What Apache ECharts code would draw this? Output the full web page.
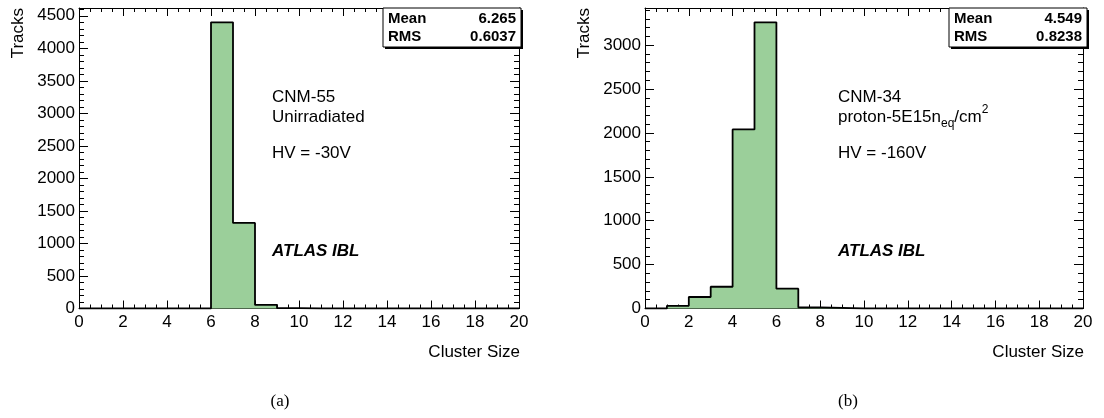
<!DOCTYPE html>
<html>
<head>
<meta charset="utf-8">
<script src="https://cdn.jsdelivr.net/npm/echarts@6/dist/echarts.min.js"></script>
<style>
  html, body { margin: 0; padding: 0; background: #fff; }
  #chart { width: 1104px; height: 418px; }
</style>
</head>
<body>
<div id="chart"></div>
<script>
// Cluster-size histograms: 20 unit-width bins from 0 to 20
const binEdges = [0, 1, 2, 3, 4, 5, 6, 7, 8, 9, 10, 11, 12, 13, 14, 15, 16, 17, 18, 19, 20];
// (a) CNM-55, unirradiated, HV = -30V
const countsA = [0, 0, 0, 0, 0, 0, 4400, 1315, 55, 5, 0, 0, 0, 0, 0, 0, 0, 0, 0, 0];
// (b) CNM-34, proton 5E15 neq/cm2, HV = -160V
const countsB = [0, 30, 131, 248, 2040, 3260, 226, 12, 6, 0, 0, 0, 0, 0, 0, 0, 0, 0, 0, 0];

const statNames = ['Mean', 'RMS'];
const statsA = ['6.265', '0.6037'];
const statsB = ['4.549', '0.8238'];

const xMajorStep = 2, xMinorStep = 0.5;
const yMajorStep = 500, yMinorStep = 100;

const FONT = 'Liberation Sans';
const FILL = '#9bcf9a';

const chart = echarts.init(document.getElementById('chart'));

// Panel frames in pixels
const panels = [
  { left: 79, top: 8, width: 440, height: 300.5, counts: countsA, stats: statsA },
  { left: 645, top: 8, width: 438, height: 300.5, counts: countsB, stats: statsB }
];

const grids = [], xAxes = [], yAxes = [], series = [], graphics = [];

panels.forEach((p, g) => {
  const yMax = Math.max(...p.counts) * 1.05;
  grids.push({ left: p.left, top: p.top, width: p.width, height: p.height, containLabel: false });

  const lineStyle = { color: '#000', width: 1 };
  const base = { gridIndex: g, type: 'value', splitLine: { show: false } };
  const xMain = xAxes.length;
  // bottom axis with labels + major ticks
  xAxes.push(Object.assign({}, base, {
    position: 'bottom', min: 0, max: 20, interval: xMajorStep,
    axisLine: { show: true, onZero: false, lineStyle },
    axisTick: { show: true, inside: true, length: 8, lineStyle },
    axisLabel: { show: true, color: '#000', fontFamily: FONT, fontSize: 17, margin: 5,
      formatter: v => String(v) }
  }));
  // bottom minor ticks
  xAxes.push(Object.assign({}, base, {
    position: 'bottom', min: 0, max: 20, interval: xMinorStep,
    axisLine: { show: false, onZero: false },
    axisTick: { show: true, inside: true, length: 4, lineStyle },
    axisLabel: { show: false }
  }));
  // top mirror, major and minor
  xAxes.push(Object.assign({}, base, {
    position: 'top', min: 0, max: 20, interval: xMajorStep,
    axisLine: { show: true, onZero: false, lineStyle },
    axisTick: { show: true, inside: true, length: 8, lineStyle },
    axisLabel: { show: false }
  }));
  xAxes.push(Object.assign({}, base, {
    position: 'top', min: 0, max: 20, interval: xMinorStep,
    axisLine: { show: false, onZero: false },
    axisTick: { show: true, inside: true, length: 4, lineStyle },
    axisLabel: { show: false }
  }));

  const yMain = yAxes.length;
  yAxes.push(Object.assign({}, base, {
    position: 'left', min: 0, max: yMax, interval: yMajorStep,
    axisLine: { show: true, onZero: false, lineStyle },
    axisTick: { show: true, inside: true, length: 9, lineStyle },
    axisLabel: { show: true, showMaxLabel: false, color: '#000', fontFamily: FONT, fontSize: 17, margin: 4,
      formatter: v => String(v) }
  }));
  yAxes.push(Object.assign({}, base, {
    position: 'left', min: 0, max: yMax, interval: yMinorStep,
    axisLine: { show: false, onZero: false },
    axisTick: { show: true, inside: true, length: 5, lineStyle },
    axisLabel: { show: false }
  }));
  yAxes.push(Object.assign({}, base, {
    position: 'right', min: 0, max: yMax, interval: yMajorStep,
    axisLine: { show: true, onZero: false, lineStyle },
    axisTick: { show: true, inside: true, length: 9, lineStyle },
    axisLabel: { show: false }
  }));
  yAxes.push(Object.assign({}, base, {
    position: 'right', min: 0, max: yMax, interval: yMinorStep,
    axisLine: { show: false, onZero: false },
    axisTick: { show: true, inside: true, length: 5, lineStyle },
    axisLabel: { show: false }
  }));

  // Histogram outline as a step line through the bin edges
  const pts = p.counts.map((c, i) => [binEdges[i], c]);
  pts.push([binEdges[binEdges.length - 1], p.counts[p.counts.length - 1]]);
  series.push({
    type: 'line', xAxisIndex: xMain, yAxisIndex: yMain,
    data: pts, step: 'end', symbol: 'none', silent: true,
    lineStyle: { color: '#000', width: 1.8 },
    areaStyle: { color: FILL, opacity: 1 },
    z: 1
  });

  // Statistics box (top right corner)
  const bx = p.left + 304, by = 8, bw = 138, bh = 39;
  graphics.push({ type: 'rect', shape: { x: bx + 2, y: by + 2, width: bw, height: bh }, style: { fill: '#000' }, z: 10 });
  graphics.push({ type: 'rect', shape: { x: bx, y: by, width: bw, height: bh }, style: { fill: '#fff', stroke: '#000', lineWidth: 1 }, z: 11 });
  statNames.forEach((n, r) => {
    graphics.push({ type: 'text', x: bx + 5, y: by + 11 + r * 18, z: 12,
      style: { text: n, font: 'bold 15px "' + FONT + '"', fill: '#000', align: 'left', verticalAlign: 'middle' } });
    graphics.push({ type: 'text', x: bx + bw - 5, y: by + 11 + r * 18, z: 12,
      style: { text: p.stats[r], font: 'bold 15px "' + FONT + '"', fill: '#000', align: 'right', verticalAlign: 'middle' } });
  });

  // Axis titles
  graphics.push({ type: 'text', x: p.left - 61, y: 8, rotation: Math.PI / 2, z: 12,
    style: { text: 'Tracks', font: '17px "' + FONT + '"', fill: '#000', align: 'right', verticalAlign: 'middle' } });
  graphics.push({ type: 'text', x: p.left + p.width + 1, y: 352, z: 12,
    style: { text: 'Cluster Size', font: '17px "' + FONT + '"', fill: '#000', align: 'right', verticalAlign: 'middle' } });
});

// Panel annotations
const tx = [272, 838];
const annot = (x, y, text, font) => graphics.push({ type: 'text', x, y, z: 12,
  style: { text, font, fill: '#000', align: 'left', verticalAlign: 'middle' } });
annot(tx[0], 97, 'CNM-55', '17px "' + FONT + '"');
annot(tx[0], 117, 'Unirradiated', '17px "' + FONT + '"');
annot(tx[0], 153, 'HV = -30V', '17px "' + FONT + '"');
annot(tx[0], 251, 'ATLAS IBL', 'italic bold 17px "' + FONT + '"');
annot(tx[1], 97, 'CNM-34', '17px "' + FONT + '"');
graphics.push({ type: 'text', x: tx[1], y: 117, z: 12,
  style: {
    text: '{n|proton-5E15n}{sub|eq}{n|/cm}{sup|2}', verticalAlign: 'middle', align: 'left',
    rich: {
      n: { fontFamily: FONT, fontSize: 17, lineHeight: 26, verticalAlign: 'middle', fill: '#000' },
      sub: { fontFamily: FONT, fontSize: 12, lineHeight: 26, verticalAlign: 'bottom', fill: '#000' },
      sup: { fontFamily: FONT, fontSize: 12, lineHeight: 26, verticalAlign: 'top', fill: '#000' }
    }
  } });
annot(tx[1], 153, 'HV = -160V', '17px "' + FONT + '"');
annot(tx[1], 251, 'ATLAS IBL', 'italic bold 17px "' + FONT + '"');

// Sub-figure captions
graphics.push({ type: 'text', x: 280, y: 402, z: 12,
  style: { text: '(a)', font: '17px "Liberation Serif"', fill: '#000', align: 'center', verticalAlign: 'middle' } });
graphics.push({ type: 'text', x: 848, y: 402, z: 12,
  style: { text: '(b)', font: '17px "Liberation Serif"', fill: '#000', align: 'center', verticalAlign: 'middle' } });

chart.setOption({
  animation: false,
  backgroundColor: '#fff',
  grid: grids,
  xAxis: xAxes,
  yAxis: yAxes,
  series: series,
  graphic: { elements: graphics }
});
</script>
</body>
</html>
